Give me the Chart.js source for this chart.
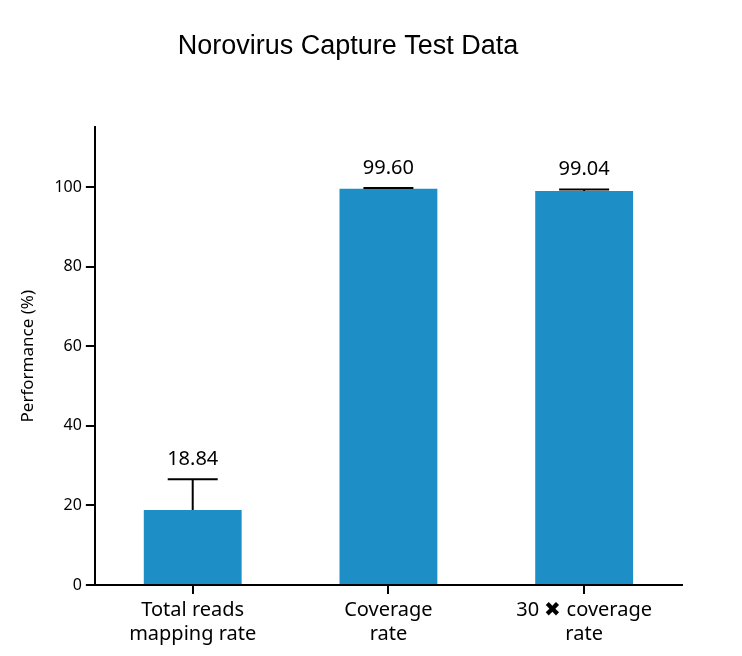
<!DOCTYPE html>
<html>
<head>
<meta charset="utf-8">
<script src="https://cdn.jsdelivr.net/npm/chart.js@4"></script>
<style>
  body { margin: 0; background: #fff; }
  #wrap { width: 742px; height: 656px; }
</style>
</head>
<body>
<div id="wrap"><canvas id="chart"></canvas></div>
<script>
const categories = [["Total reads", "mapping rate"], ["Coverage", "rate"], ["30 \u2716 coverage", "rate"]];
const values = [18.84, 99.60, 99.04];
const errorTops = [26.6, 99.8, 99.4];
const valueLabels = ["18.84", "99.60", "99.04"];
const yTicks = [0, 20, 40, 60, 80, 100];

// error bars + value labels drawn on top of the bars
const errorPlugin = {
  id: "errors",
  afterDatasetsDraw(chart) {
    const ctx = chart.ctx;
    const y = chart.scales.y;
    const meta = chart.getDatasetMeta(0);
    ctx.save();
    ctx.strokeStyle = "#000";
    ctx.lineWidth = 2;
    meta.data.forEach((bar, i) => {
      const yv = y.getPixelForValue(values[i]);
      const ye = y.getPixelForValue(errorTops[i]);
      ctx.beginPath();
      ctx.moveTo(bar.x, yv);
      ctx.lineTo(bar.x, ye);
      ctx.moveTo(bar.x - 25, ye);
      ctx.lineTo(bar.x + 25, ye);
      ctx.stroke();
      ctx.fillStyle = "#000";
      ctx.font = "20px 'Noto Sans'";
      ctx.textAlign = "center";
      ctx.textBaseline = "bottom";
      ctx.fillText(valueLabels[i], bar.x, ye - 10);
    });
    ctx.restore();
  }
};

new Chart(document.getElementById("chart"), {
  type: "bar",
  data: {
    labels: categories,
    datasets: [{
      data: values,
      backgroundColor: "#1e8fc6",
      barPercentage: 0.5,
      categoryPercentage: 1.0
    }]
  },
  options: {
    responsive: true,
    maintainAspectRatio: false,
    animation: false,
    layout: { padding: { left: 14, right: 60, top: 10, bottom: 6 } },
    plugins: {
      legend: { display: false },
      tooltip: { enabled: false },
      title: {
        display: true,
        text: "Norovirus Capture Test Data",
        color: "#000",
        font: { family: "'Liberation Sans'", size: 27, weight: "normal" },
        padding: { top: 20, bottom: 65 }
      }
    },
    scales: {
      x: {
        grid: { display: true, drawOnChartArea: false, offset: false, color: "#000", lineWidth: 2, tickLength: 9 },
        border: { color: "#000", width: 2 },
        ticks: { color: "#000", font: { family: "'Noto Sans'", size: 20 }, padding: 4 }
      },
      y: {
        min: 0,
        max: 115,
        afterBuildTicks(axis) { axis.ticks = yTicks.map(v => ({ value: v })); },
        grid: { display: true, drawOnChartArea: false, color: "#000", lineWidth: 2, tickLength: 9 },
        border: { color: "#000", width: 2 },
        ticks: { color: "#000", font: { family: "'Noto Sans'", size: 16 }, padding: 4 },
        title: {
          display: true,
          text: "Performance (%)",
          color: "#000",
          font: { family: "'Noto Sans'", size: 17 },
          padding: { bottom: 12 }
        }
      }
    }
  },
  plugins: [errorPlugin]
});
</script>
</body>
</html>
